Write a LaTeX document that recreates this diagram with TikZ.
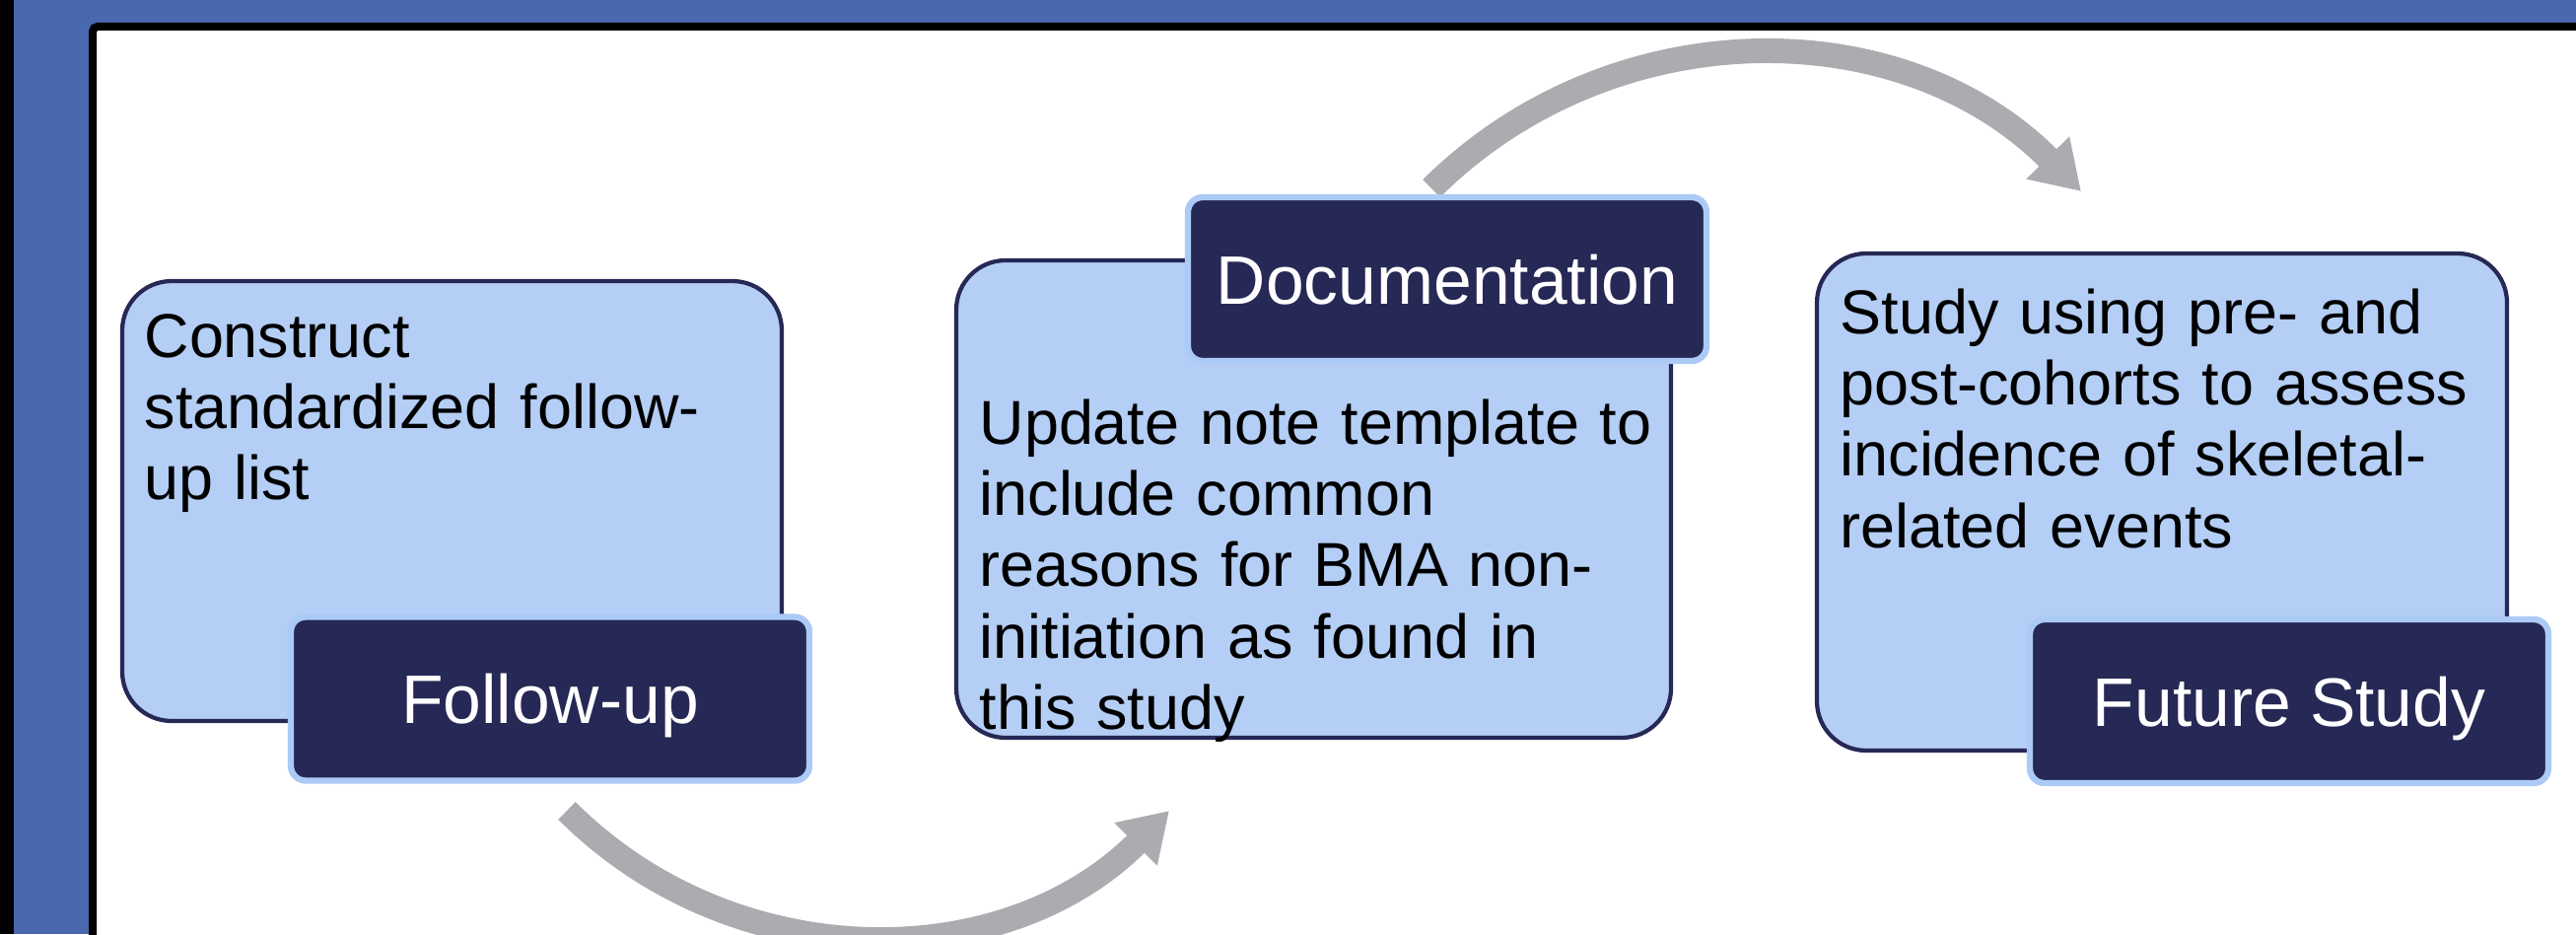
\documentclass[tikz,border=0pt]{standalone}
\usepackage{fontspec}
\setmainfont{Liberation Sans}
\usetikzlibrary{arrows.meta,positioning,calc}
\definecolor{frameblue}{RGB}{74,104,174}
\definecolor{paleblue}{RGB}{180,206,245}
\definecolor{navy}{RGB}{38,40,85}
\definecolor{edgeblue}{RGB}{172,202,246}
\definecolor{arcgrey}{RGB}{171,172,176}

\begin{document}
\begin{tikzpicture}[>=Latex,
panel/.style={draw=navy,line width=1.2pt,fill=paleblue,rounded corners=5mm,inner sep=0pt},
tag/.style={draw=edgeblue,line width=1.8pt,fill=navy,rounded corners=1.5mm,text=white,minimum width=5.26cm,minimum height=1.66cm,inner sep=0pt,font=\fontsize{19.8}{23}\selectfont,text depth=0pt},
note/.style={anchor=base west,align=left,text width=7cm,inner sep=0pt,font=\fontsize{17.9}{20.5}\selectfont},
loop/.style={-{Triangle[length=4.8mm,width=5.8mm]},line width=2.5mm,draw=arcgrey}]
\useasboundingbox (0,0) rectangle (26.13,-9.47);
\clip (0,0) rectangle (26.13,-9.47);
% slide frame
\fill[black] (0,0) rectangle (26.13,-9.47);
\fill[frameblue] (0.14,0) rectangle (26.13,-9.47);
\draw[line width=0.8mm,fill=white,rounded corners=0.5mm] (0.94,-0.27) rectangle (27,-10.5);
% curved arrows (behind the boxes)
\coordinate (low1) at (5.75,-8.22);
\coordinate (low2) at (11.86,-8.22);
\coordinate (high1) at (14.52,-1.91);
\coordinate (high2) at (21.11,-1.94);
\draw[loop] (low1) to[bend right=45] (low2);
\draw[loop] (high1) to[bend left=45] (high2);
% content boxes
\node[panel,minimum width=6.69cm,minimum height=4.46cm] (box1) at (4.585,-5.08) {};
\node[panel,minimum width=7.25cm,minimum height=4.84cm] (box2) at (13.325,-5.06) {};
\node[panel,minimum width=7.00cm,minimum height=5.04cm] (box3) at (21.93,-5.09) {};
\node[note] (txt1) at ($(box1.north west)+(0.24,-0.80)$)
{Construct\\standardized follow-\\up list};
\node[note] (txt2) at ($(box2.north west)+(0.25,-1.89)$)
{Update note template to\\include common\\reasons for BMA non-\\initiation as found in\\this study};
\node[note] (txt3) at ($(box3.north west)+(0.25,-0.84)$)
{Study using pre- and\\post-cohorts to assess\\incidence of skeletal-\\related events};
% stage labels
\node[tag] (fu) at (5.58,-7.085) {Follow-up};
\node[tag] (doc) at (14.68,-2.83) {Documentation};
\node[tag] (fs) at (23.22,-7.11) {Future Study};
\end{tikzpicture}
\end{document}
